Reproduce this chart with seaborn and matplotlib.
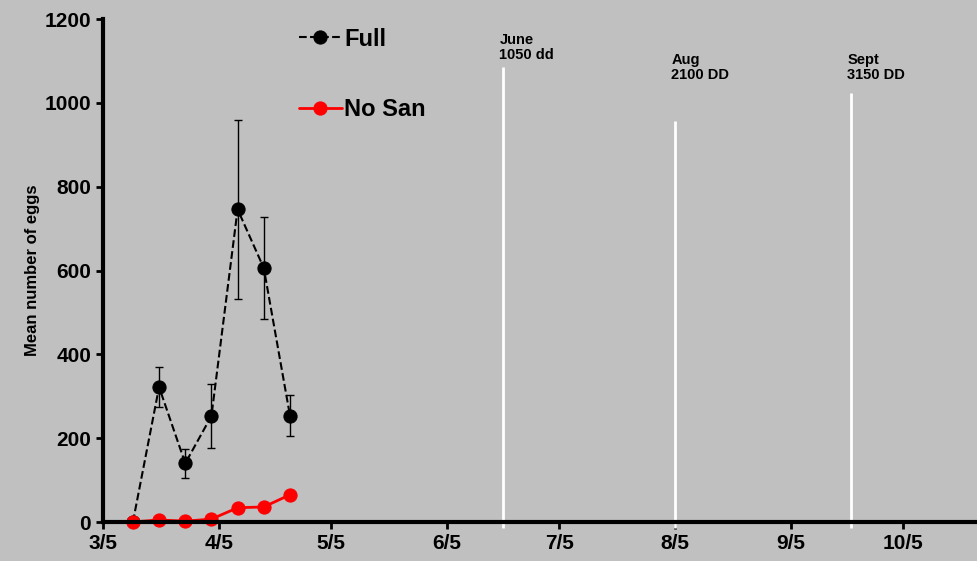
import pandas as pd
import matplotlib
matplotlib.use("Agg")
import matplotlib.pyplot as plt
import matplotlib.dates as mdates
import matplotlib.ticker as mticker
import seaborn as sns

# Sampling dates (weekly)
dates = pd.to_datetime(["2011-03-13", "2011-03-20", "2011-03-27", "2011-04-03",
                        "2011-04-10", "2011-04-17", "2011-04-24"])

# Mean eggs and error bars
full_mean = [0, 322, 140, 253, 746, 606, 254]
full_err = [0, 48, 35, 77, 213, 121, 49]
nosan_mean = [0, 5, 2, 7, 34, 36, 65]
nosan_err = [0, 2, 2, 3, 5, 5, 8]

# Degree-day markers
marker_dates = pd.to_datetime(["2011-06-20", "2011-08-05", "2011-09-21"])
marker_tops = [1085, 957, 1024]
marker_text_y = [1098, 1050, 1050]
marker_labels = ["June\n1050 dd", "Aug\n2100 DD", "Sept\n3150 DD"]

tick_dates = pd.to_datetime(["2011-03-05", "2011-04-05", "2011-05-05", "2011-06-05",
                             "2011-07-05", "2011-08-05", "2011-09-05", "2011-10-05"])

grey = "#C0C0C0"
sns.set_theme(style="white")
plt.rcParams["font.family"] = ["Liberation Sans", "DejaVu Sans"]
plt.rcParams["font.weight"] = "bold"
plt.rcParams["text.color"] = "black"
plt.rcParams["axes.labelcolor"] = "black"
plt.rcParams["xtick.color"] = "black"
plt.rcParams["ytick.color"] = "black"

fig = plt.figure(figsize=(9.78, 5.61), dpi=100, facecolor=grey)
ax = fig.add_axes([0.1053, 0.0695, 0.8947, 0.8965])
ax.set_facecolor(grey)

df = pd.DataFrame({"date": list(dates) * 2,
                   "eggs": full_mean + nosan_mean,
                   "treatment": ["Full"] * 7 + ["No San"] * 7})

sns.lineplot(data=df[df.treatment == "Full"], x="date", y="eggs", ax=ax,
             color="black", linestyle="--", linewidth=1.5, marker="o",
             markersize=9.5, markeredgecolor="black", label="Full")
sns.lineplot(data=df[df.treatment == "No San"], x="date", y="eggs", ax=ax,
             color="red", linewidth=2, marker="o", markersize=9.5,
             markeredgecolor="red", label="No San", clip_on=False)

ax.errorbar(dates, full_mean, yerr=full_err, fmt="none", ecolor="black",
            elinewidth=1, capsize=3, capthick=1)
ax.errorbar(dates, nosan_mean, yerr=nosan_err, fmt="none", ecolor="red",
            elinewidth=1, capsize=3, capthick=1)

# white degree-day lines
for d, top, ty, lab in zip(marker_dates, marker_tops, marker_text_y, marker_labels):
    ax.vlines(d, -15, top, color="white", linewidth=2, clip_on=False)
    ax.text(d - pd.Timedelta(days=1), ty, lab, fontsize=10.5, fontweight="bold",
            va="bottom", ha="left", linespacing=1.05)

ax.set_xlim(pd.Timestamp("2011-03-05"), pd.Timestamp("2011-10-25"))
ax.set_ylim(0, 1200)
ax.set_yticks(range(0, 1201, 200))
ax.set_xticks(tick_dates)
ax.xaxis.set_major_formatter(mticker.FuncFormatter(
    lambda v, p: f"{mdates.num2date(v).month}/{mdates.num2date(v).day}"))

ax.set_xlabel("")
ax.set_ylabel("Mean number of eggs", fontsize=12, fontweight="bold", labelpad=3)
ax.tick_params(axis="both", labelsize=15, direction="out", length=5, width=2,
               color="black", bottom=True, left=True)
for lab in ax.get_xticklabels() + ax.get_yticklabels():
    lab.set_fontweight("bold")

sns.despine(ax=ax)
for s in ["left", "bottom"]:
    ax.spines[s].set_linewidth(3)
    ax.spines[s].set_color("black")

leg = ax.legend(loc="upper left", bbox_to_anchor=(0.2, 1.025), frameon=False,
                fontsize=17, labelspacing=2.0, handlelength=1.8, handletextpad=0.1)
for t in leg.get_texts():
    t.set_fontweight("bold")

fig.savefig("out.png", dpi=100, facecolor=grey)
